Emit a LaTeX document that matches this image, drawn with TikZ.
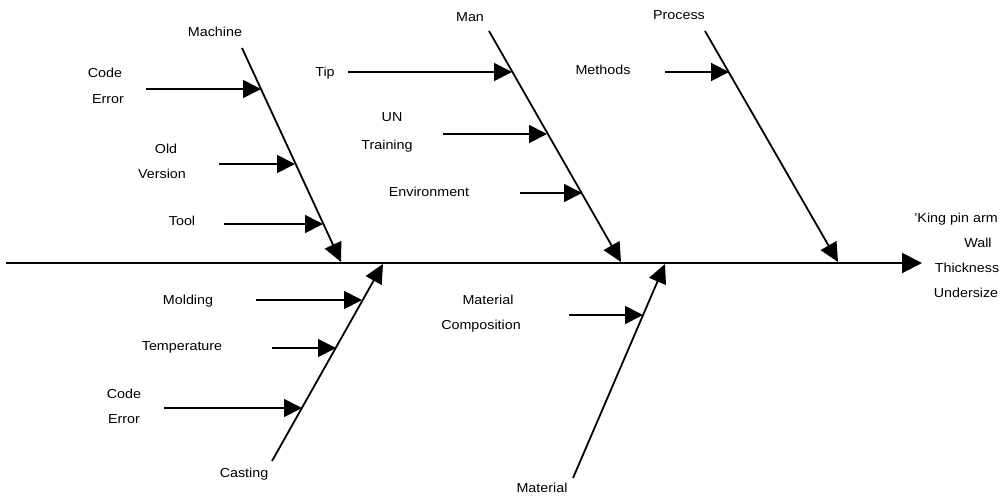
\documentclass[tikz,border=0pt]{standalone}
\usepackage{fontspec}
\setmainfont{Liberation Sans}[FakeStretch=1.1]
\usetikzlibrary{arrows.meta}
\begin{document}
\begin{tikzpicture}[x=1pt,y=-1pt,
  lbl/.style={inner sep=0pt,anchor=center,text height=9.4pt,text depth=0pt,
              font=\fontsize{13}{15}\selectfont},
  spine/.style={line width=2pt,-{Triangle[length=20pt,width=20pt]}},
  bone/.style={line width=1.8pt,-{Triangle[length=19pt,width=18pt]}},
  cause/.style={line width=1.8pt,-{Triangle[length=18pt,width=18pt]}}]
\useasboundingbox (0,0) rectangle (1008,499);

% main spine and effect
\coordinate (sp0) at (6,263);
\coordinate (sp1) at (922,263);
\draw[spine] (sp0) -- (sp1);
\node[lbl] (eff1) at (956,218) {'King pin arm};
\node[lbl] (eff2) at (978,243) {Wall};
\node[lbl] (eff3) at (967,268) {Thickness};
\node[lbl] (eff4) at (966,293) {Undersize};

% Machine branch
\coordinate (mA) at (242,48);
\coordinate (mB) at (341,262);
\draw[bone] (mA) -- (mB);
\node[lbl] (machine) at (215,32) {Machine};
\node[lbl] (code1) at (105,73) {Code};
\node[lbl] (err1) at (108,99) {Error};
\coordinate (c1t) at (146,89);  \coordinate (c1h) at (261,89);
\draw[cause] (c1t) -- (c1h);
\node[lbl] (old) at (166,149) {Old};
\node[lbl] (version) at (162,174) {Version};
\coordinate (c2t) at (219,164); \coordinate (c2h) at (295,164);
\draw[cause] (c2t) -- (c2h);
\node[lbl] (tool) at (182,221) {Tool};
\coordinate (c3t) at (224,224); \coordinate (c3h) at (323,224);
\draw[cause] (c3t) -- (c3h);

% Man branch
\coordinate (nA) at (489,31);
\coordinate (nB) at (621,262);
\draw[bone] (nA) -- (nB);
\node[lbl] (man) at (470,17) {Man};
\node[lbl] (tip) at (325,72) {Tip};
\coordinate (c4t) at (348,72);  \coordinate (c4h) at (512,72);
\draw[cause] (c4t) -- (c4h);
\node[lbl] (un) at (392,117) {UN};
\node[lbl] (training) at (387,145) {Training};
\coordinate (c5t) at (443,134); \coordinate (c5h) at (547,134);
\draw[cause] (c5t) -- (c5h);
\node[lbl] (env) at (429,192) {Environment};
\coordinate (c6t) at (520,193); \coordinate (c6h) at (582,193);
\draw[cause] (c6t) -- (c6h);

% Process branch
\coordinate (pA) at (705,31);
\coordinate (pB) at (838,262);
\draw[bone] (pA) -- (pB);
\node[lbl] (process) at (679,15) {Process};
\node[lbl] (methods) at (603,70) {Methods};
\coordinate (c7t) at (665,72);  \coordinate (c7h) at (729,72);
\draw[cause] (c7t) -- (c7h);

% Casting branch
\coordinate (kA) at (272,461);
\coordinate (kB) at (383,264);
\draw[bone] (kA) -- (kB);
\node[lbl] (casting) at (244,473) {Casting};
\node[lbl] (molding) at (188,300) {Molding};
\coordinate (c8t) at (256,300); \coordinate (c8h) at (362,300);
\draw[cause] (c8t) -- (c8h);
\node[lbl] (temp) at (182,346) {Temperature};
\coordinate (c9t) at (272,348); \coordinate (c9h) at (336,348);
\draw[cause] (c9t) -- (c9h);
\node[lbl] (code2) at (124,394) {Code};
\node[lbl] (err2) at (124,419) {Error};
\coordinate (c10t) at (164,408); \coordinate (c10h) at (302,408);
\draw[cause] (c10t) -- (c10h);

% Material branch
\coordinate (tA) at (573,478);
\coordinate (tB) at (665,264);
\draw[bone] (tA) -- (tB);
\node[lbl] (material) at (542,488) {Material};
\node[lbl] (mat1) at (488,300) {Material};
\node[lbl] (comp) at (481,325) {Composition};
\coordinate (c11t) at (569,315); \coordinate (c11h) at (643,315);
\draw[cause] (c11t) -- (c11h);
\end{tikzpicture}
\end{document}
